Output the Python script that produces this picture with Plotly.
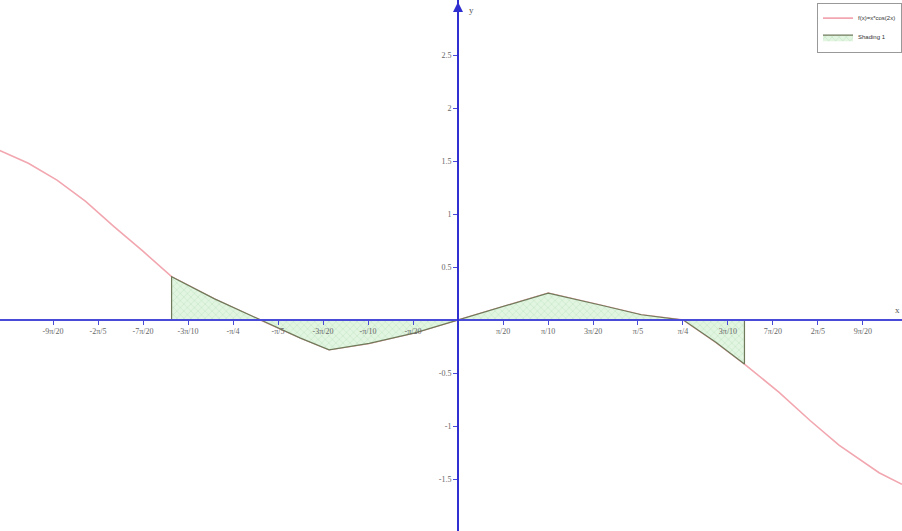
import plotly.graph_objects as go

# Curve values
curve_x = [-1.60, -1.50, -1.40, -1.30, -1.20, -1.10, -1.00, -0.85, -0.69, -0.55, -0.45,
           -0.31, -0.15, 0.00, 0.15, 0.315, 0.50, 0.64, 0.787, 0.90, 1.00, 1.12, 1.23,
           1.33, 1.47, 1.55]
curve_y = [1.60, 1.48, 1.32, 1.12, 0.88, 0.65, 0.41, 0.20, 0.00, -0.17, -0.28,
           -0.22, -0.12, 0.00, 0.12, 0.255, 0.14, 0.05, 0.00, -0.21, -0.415, -0.68, -0.95,
           -1.18, -1.44, -1.55]

shade_from = -1.0
shade_to = 1.0

x_tick_vals = [-9, -8, -7, -6, -5, -4, -3, -2, -1, 1, 2, 3, 4, 5, 6, 7, 8, 9]  # multiples of pi/20
x_tick_text = ["-9π/20", "-2π/5", "-7π/20", "-3π/10", "-π/4", "-π/5", "-3π/20", "-π/10", "-π/20",
               "π/20", "π/10", "3π/20", "π/5", "π/4", "3π/10", "7π/20", "2π/5", "9π/20"]
y_tick_vals = [-1.5, -1, -0.5, 0.5, 1, 1.5, 2, 2.5]
y_tick_text = ["-1.5", "-1", "-0.5", "0.5", "1", "1.5", "2", "2.5"]

PI = 3.141592653589793
xr = [-1.599, 1.550]
yr = [-1.99, 3.02]

sx, sy = [], []
for xv, yv in zip(curve_x, curve_y):
    if shade_from <= xv <= shade_to:
        sx.append(xv)
        sy.append(yv)
sx = [sx[0]] + sx + [sx[-1]]
sy = [0] + sy + [0]

fig = go.Figure()
fig.add_trace(go.Scatter(x=curve_x, y=curve_y, mode="lines", name="f(x)=x*cos(2x)",
                         line=dict(color="#f2a7b0", width=1.6)))
fig.add_trace(go.Scatter(x=sx, y=sy, mode="lines", name="Shading 1", fill="toself",
                         fillcolor="rgba(215,240,215,0.9)",
                         fillpattern=dict(shape="x", fgcolor="#8cc88c", bgcolor="rgba(225,245,225,1)",
                                          size=5, solidity=0.15),
                         line=dict(color="#6f7a5a", width=1.2)))

axis_font = dict(family="Liberation Serif", size=8, color="#666666")
fig.update_layout(
    width=902, height=531,
    margin=dict(l=0, r=0, t=0, b=0),
    paper_bgcolor="white", plot_bgcolor="white",
    showlegend=True,
    legend=dict(x=1, y=0.995, xanchor="right", yanchor="top", bgcolor="white",
                bordercolor="#999999", borderwidth=1, itemwidth=30,
                font=dict(family="Liberation Sans", size=6, color="#333333"),
                tracegroupgap=0),
    xaxis=dict(range=xr, anchor="free", position=(0 - yr[0]) / (yr[1] - yr[0]),
               showgrid=False, zeroline=False, showline=True, linecolor="#4a4ad8", linewidth=1.5,
               ticks="outside", ticklen=4, tickcolor="#4a4ad8",
               tickvals=[v * PI / 20 for v in x_tick_vals], ticktext=x_tick_text,
               tickfont=axis_font),
    yaxis=dict(range=yr, anchor="free", position=(0 - xr[0]) / (xr[1] - xr[0]),
               showgrid=False, zeroline=False, showline=True, linecolor="#3030d0", linewidth=2,
               ticks="outside", ticklen=4, tickcolor="#4a4ad8",
               tickvals=y_tick_vals, ticktext=y_tick_text, tickfont=axis_font),
    annotations=[
        dict(x=0, y=yr[1] - 0.02, ax=0, ay=3.0 - 0.12, xref="x", yref="y", axref="x", ayref="y",
             showarrow=True, arrowhead=2, arrowsize=1, arrowwidth=2, arrowcolor="#3030d0", text=""),
        dict(x=0.03, y=2.99, xref="x", yref="y", text="y", showarrow=False, xanchor="left",
             yanchor="top", font=dict(family="Liberation Serif", size=9, color="#555555")),
        dict(x=xr[1], y=0.03, xref="x", yref="y", text="x", showarrow=False, xanchor="right",
             yanchor="bottom", font=dict(family="Liberation Serif", size=9, color="#555555")),
    ],
)

fig.write_html("out.html", config={"displayModeBar": False},
               post_script="document.body.style.margin='0';")
